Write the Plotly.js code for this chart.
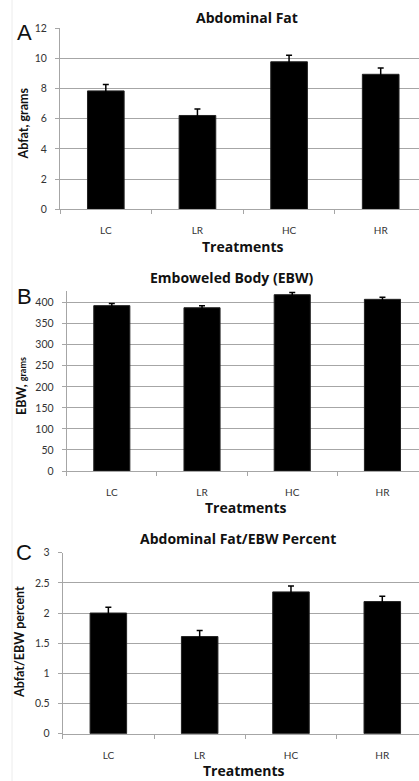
<!DOCTYPE html>
<html>
<head>
<meta charset="utf-8">
<script src="https://cdn.plot.ly/plotly-3.0.1.min.js"></script>
<style>html,body{margin:0;padding:0;background:#fff;}#chart{width:419px;height:781px;}</style>
</head>
<body>
<div id="chart"></div>
<script>
// ---- data ----
const treatments = ["LC", "LR", "HC", "HR"];
const abfat = [7.85, 6.22, 9.78, 8.95];
const abfatErr = [0.42, 0.43, 0.43, 0.42];
const ebw = [393, 388, 419, 408];
const ebwErr = [5, 5, 5, 5];
const pct = [2.0, 1.61, 2.35, 2.19];
const pctErr = [0.095, 0.1, 0.1, 0.09];

const W = 419, H = 781;
const px = x => x / W;
const py = y => 1 - y / H;

const FONT = "Lato, 'Open Sans', sans-serif";
const TFONT = "'Open Sans', Lato, sans-serif";
const grid = "#a6a6a6";

function bar(y, err, xa, ya) {
  return {
    type: "bar", x: treatments, y: y, xaxis: xa, yaxis: ya,
    width: 0.4,
    marker: {color: "#000", line: {color: "#222", width: 1}},
    error_y: {type: "data", array: err, visible: true, color: "#000", thickness: 1.5, width: 3},
    hoverinfo: "skip", showlegend: false
  };
}

function xax(d0, r1) {
  return {
    domain: [d0, 1], range: [-0.5, r1], type: "category",
    showgrid: false, showline: true, linecolor: grid, linewidth: 1,
    ticks: "outside", tickson: "boundaries", ticklen: 4, tickcolor: grid,
    tickfont: {family: FONT, size: 10, color: "#333"}, ticklabelstandoff: 12,
    zeroline: false, fixedrange: true
  };
}
function yax(d, range, dtick) {
  return {
    domain: d, range: range, dtick: dtick, tick0: 0,
    showgrid: true, gridcolor: grid, gridwidth: 1,
    showline: true, linecolor: grid, linewidth: 1,
    ticks: "outside", ticklen: 4, tickcolor: grid,
    tickfont: {family: FONT, size: 10.5, color: "#333"}, ticklabelstandoff: 6,
    zeroline: false, fixedrange: true
  };
}

function ann(text, x, y, size, opts, fam) {
  return Object.assign({
    text: text, xref: "paper", yref: "paper", x: px(x), y: py(y),
    xanchor: "center", yanchor: "middle", showarrow: false,
    font: {family: fam || FONT, size: size, color: "#111"}
  }, opts || {});
}

const data = [
  bar(abfat, abfatErr, "x", "y"),
  bar(ebw, ebwErr, "x2", "y2"),
  bar(pct, pctErr, "x3", "y3")
];

const LET = {font: {family: "Liberation Sans, Arial, sans-serif", size: 22, color: "#111"}};

const layout = {
  width: W, height: H,
  margin: {l: 0, r: 0, t: 0, b: 0},
  paper_bgcolor: "#fff", plot_bgcolor: "#fff",
  bargap: 0.6,
  xaxis: Object.assign(xax(px(60), 3.418), {anchor: "y"}),
  yaxis: Object.assign(yax([py(209.3), py(28.3)], [0, 12], 2), {anchor: "x"}),
  xaxis2: Object.assign(xax(px(66.7), 3.405), {anchor: "y2"}),
  yaxis2: Object.assign(yax([py(471), py(290.7)], [0, 428.5], 50), {anchor: "x2"}),
  xaxis3: Object.assign(xax(px(62.7), 3.402), {anchor: "y3"}),
  yaxis3: Object.assign(yax([py(733.7), py(552.7)], [0, 3], 0.5), {anchor: "x3"}),
  shapes: [
    {type: "line", xref: "paper", yref: "paper", x0: px(12), x1: px(12), y0: 0, y1: 1,
     line: {color: "#ececec", width: 1}}
  ],
  annotations: [
    ann("<b>Abdominal Fat</b>", 247, 18, 14, null, TFONT),
    ann("<b>Emboweled Body (EBW)</b>", 232, 278, 14, null, TFONT),
    ann("<b>Abdominal Fat/EBW Percent</b>", 238, 538, 14, null, TFONT),
    ann("A", 24, 32, 22, LET),
    ann("B", 24, 296, 22, LET),
    ann("C", 24, 552, 22, LET),
    ann("<b>Treatments</b>", 242.5, 246.7, 14, null, TFONT),
    ann("<b>Treatments</b>", 246, 507, 14, null, TFONT),
    ann("<b>Treatments</b>", 244, 770, 14, null, TFONT),
    ann("<b>Abfat, grams</b>", 23, 123.5, 12.5, {textangle: -90}),
    ann("<b>EBW, <span style='font-size:9px'>grams</span></b>", 22, 386, 12.5, {textangle: -90}),
    ann("<b>Abfat/EBW percent</b>", 19, 642, 12.5, {textangle: -90})
  ]
};

Plotly.newPlot("chart", data, layout, {staticPlot: true, displayModeBar: false});
</script>
</body>
</html>
